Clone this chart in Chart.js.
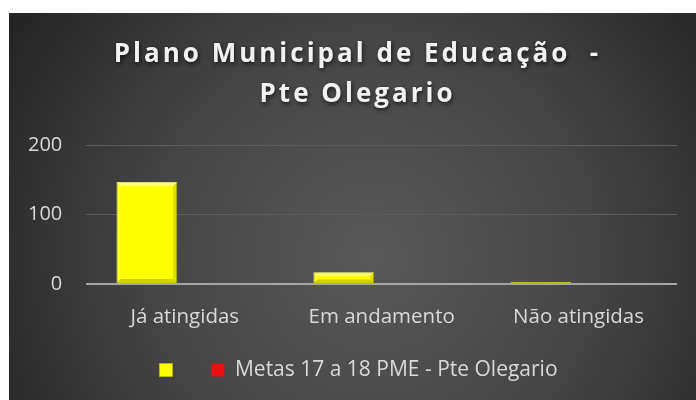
<!DOCTYPE html>
<html>
<head>
<meta charset="utf-8">
<script src="https://cdn.jsdelivr.net/npm/chart.js@4/dist/chart.umd.min.js"></script>
<style>
  html, body { margin: 0; padding: 0; background: #ffffff; }
  canvas { display: block; }
</style>
</head>
<body>
<canvas id="c" width="696" height="400"></canvas>
<script>
const categories = ["Já atingidas", "Em andamento", "Não atingidas"];
const seriesMainLabel = "";
const seriesMainValues = [147, 17, 3];
const seriesMetasLabel = "Metas 17 a 18 PME - Pte Olegario";
const seriesMetasValues = [0, 0, 0];
const yTicks = [0, 100, 200];
const titleLines = ["Plano Municipal de Educação  -", "Pte Olegario"];

function patchDraw(box, dx, extra) {
  if (!box || box._patched) return;
  const orig = box.draw;
  box.draw = function () {
    const c = this.ctx;
    c.save();
    c.translate(dx(this), 0);
    if (extra) extra(c);
    orig.apply(this, arguments);
    c.restore();
  };
  box._patched = true;
}

const bgPlugin = {
  id: 'bg',
  beforeDraw(chart) {
    const ctx = chart.ctx;
    ctx.save();
    ctx.fillStyle = '#ffffff';
    ctx.fillRect(0, 0, chart.width, chart.height);
    const x0 = 9, y0 = 13, x1 = chart.width, y1 = chart.height;
    const cx = (x0 + x1) / 2 + 20, cy = (y0 + y1) / 2 + 50;
    const g = ctx.createRadialGradient(cx, cy, 0, cx, cy, 430);
    g.addColorStop(0, '#585858');
    g.addColorStop(0.5, '#464646');
    g.addColorStop(1, '#242424');
    ctx.fillStyle = g;
    ctx.fillRect(x0, y0, x1 - x0, y1 - y0);
    ctx.restore();
    patchDraw(chart.titleBlock, b => 357.5 - (b.left + b.right) / 2, c => {
      c.letterSpacing = '3px';
      c.shadowColor = 'rgba(0,0,0,0.65)';
      c.shadowBlur = 4;
      c.shadowOffsetX = 1;
      c.shadowOffsetY = 2;
    });
    patchDraw(chart.legend, b => 18, null);
  },
  afterDatasetsDraw(chart) {
    const ctx = chart.ctx;
    const meta = chart.getDatasetMeta(0);
    ctx.save();
    meta.data.forEach(bar => {
      const p = bar.getProps(['x', 'y', 'base', 'width'], true);
      const l = p.x - p.width / 2, r = p.x + p.width / 2;
      const t = Math.min(p.y, p.base), b = Math.max(p.y, p.base);
      const h = b - t;
      const e = Math.min(4, h / 3, p.width / 6);
      if (h < 3) return;
      // top bevel (lighter)
      ctx.fillStyle = 'rgba(255,255,200,0.55)';
      ctx.beginPath();
      ctx.moveTo(l, t); ctx.lineTo(r, t); ctx.lineTo(r - e, t + e); ctx.lineTo(l + e, t + e); ctx.closePath(); ctx.fill();
      // left bevel
      ctx.fillStyle = 'rgba(255,255,180,0.3)';
      ctx.beginPath();
      ctx.moveTo(l, t); ctx.lineTo(l + e, t + e); ctx.lineTo(l + e, b - e); ctx.lineTo(l, b); ctx.closePath(); ctx.fill();
      // right bevel (darker)
      ctx.fillStyle = 'rgba(120,120,0,0.25)';
      ctx.beginPath();
      ctx.moveTo(r, t); ctx.lineTo(r, b); ctx.lineTo(r - e, b - e); ctx.lineTo(r - e, t + e); ctx.closePath(); ctx.fill();
      // bottom bevel
      ctx.fillStyle = 'rgba(120,120,0,0.35)';
      ctx.beginPath();
      ctx.moveTo(l, b); ctx.lineTo(r, b); ctx.lineTo(r - e, b - e); ctx.lineTo(l + e, b - e); ctx.closePath(); ctx.fill();
    });
    ctx.restore();
  }
};

new Chart(document.getElementById('c'), {
  type: 'bar',
  data: {
    labels: categories,
    datasets: [
      {
        label: seriesMainLabel,
        data: seriesMainValues,
        backgroundColor: '#ffff00',
        borderColor: '#b8b800',
        borderWidth: 1,
        categoryPercentage: 0.77,
        barPercentage: 0.80
      },
      {
        label: seriesMetasLabel,
        data: seriesMetasValues,
        backgroundColor: '#e81010',
        borderColor: '#a00000',
        borderWidth: 0,
        categoryPercentage: 0.77,
        barPercentage: 0.80
      }
    ]
  },
  plugins: [bgPlugin],
  options: {
    responsive: false,
    animation: false,
    devicePixelRatio: 1,
    layout: { padding: { left: 4, right: 19, top: 13, bottom: 9.5 } },
    plugins: {
      title: {
        display: true,
        text: titleLines,
        color: '#f2f2f2',
        font: { family: '"Open Sans", sans-serif', size: 26, weight: 'bold', lineHeight: 1.54 },
        padding: { top: 22, bottom: 30 }
      },
      legend: {
        display: true,
        position: 'bottom',
        labels: {
          color: '#d9d9d9',
          font: { family: '"Open Sans", sans-serif', size: 21 },
          boxWidth: 13,
          boxHeight: 13,
          padding: 28.5
        }
      },
      tooltip: { enabled: false }
    },
    scales: {
      x: {
        grid: { display: false },
        border: { display: false },
        afterFit(scale) { scale.height = 47; },
        ticks: {
          color: '#d9d9d9',
          font: { family: '"Open Sans", sans-serif', size: 20.5 },
          padding: 13
        }
      },
      y: {
        min: 0,
        max: 200,
        afterBuildTicks(scale) { scale.ticks = yTicks.map(v => ({ value: v })); },
        border: { display: false },
        grid: {
          drawTicks: false,
          color: (ctx) => ctx.tick && ctx.tick.value === 0 ? '#a6a6a6' : '#5c5c5c',
          lineWidth: (ctx) => ctx.tick && ctx.tick.value === 0 ? 2 : 1
        },
        ticks: {
          color: '#d9d9d9',
          font: { family: '"Open Sans", sans-serif', size: 20 },
          padding: 24
        }
      }
    }
  }
});
</script>
</body>
</html>
